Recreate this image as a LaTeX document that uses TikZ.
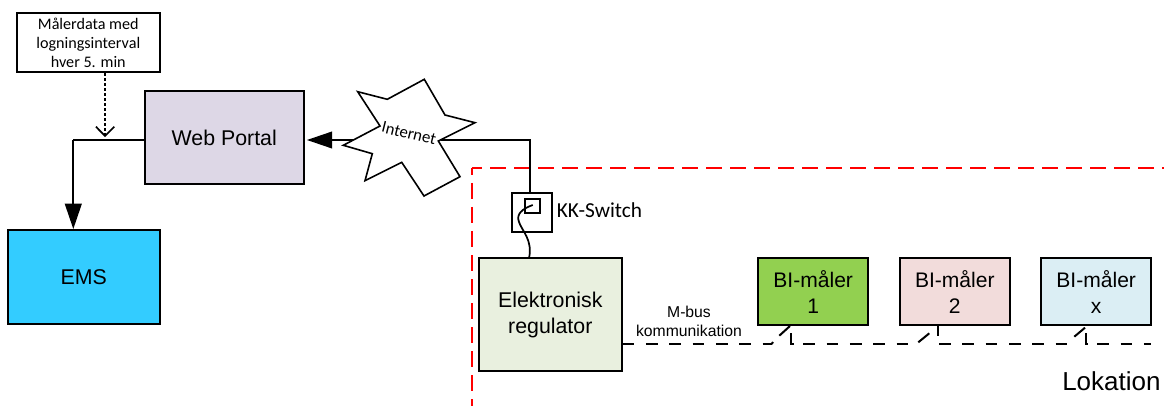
\documentclass[tikz,border=0pt]{standalone}
\usepackage{fontspec}
\setmainfont{Liberation Sans}
\newfontfamily\calfont{Carlito}
\usetikzlibrary{arrows.meta}
\definecolor{webc}{HTML}{DDD7E6}
\definecolor{emsc}{HTML}{33CCFF}
\definecolor{regc}{HTML}{E9F0DF}
\definecolor{m1c}{HTML}{92D050}
\definecolor{m2c}{HTML}{F2DCDB}
\definecolor{mxc}{HTML}{DBEEF4}
\tikzset{
 x=0.75pt,y=-0.75pt,
 boxed/.style={draw=black,line width=1.4pt,inner sep=0pt,align=center},
 main/.style={boxed,font=\fontsize{16}{19.4}\selectfont},
 meter/.style={main,font=\fontsize{15.8}{19.5}\selectfont,minimum width=82.3pt,minimum height=50pt},
 wire/.style={line width=1.5pt,line join=miter},
 solidhead/.style={-{Triangle[length=19pt,width=12.5pt]}},
 busline/.style={line width=1.5pt},
 busdash/.style={busline,dash pattern=on 8.8pt off 8.7pt},
 redframe/.style={red,line width=1.7pt,dash pattern=on 12pt off 6pt},
}
\begin{document}
\begin{tikzpicture}
\useasboundingbox (0,0) rectangle (1164,406);
% red location frame
\coordinate (fa) at (1164,168);
\coordinate (fb) at (472,168);
\coordinate (fc) at (472,406);
\draw[redframe,dash phase=4.5pt] (fb) -- (fa);
\draw[redframe,dash phase=6.75pt] (fb) -- (fc);
\node[anchor=base west,font=\fontsize{19.5}{22}\selectfont,inner sep=0pt] (lok) at (1062,390) {Lokation};
% boxes
\node[boxed,minimum width=107pt,minimum height=44pt,font=\calfont\fontsize{12.1}{14.1}\selectfont] (call) at (88.3,42.7) {Målerdata med\\logningsinterval\\hver 5. min};
\node[main,fill=webc,minimum width=119.5pt,minimum height=70pt] (web) at (224.3,137.5) {Web Portal};
\node[main,fill=emsc,minimum width=114.2pt,minimum height=70.5pt] (ems) at (83.8,277) {EMS};
\node[main,fill=regc,minimum width=107pt,minimum height=84.5pt] (reg) at (550.3,314.6) {Elektronisk\\regulator};
\node[meter,fill=m1c] (m1) at (813.2,291.7) {BI-måler\\1};
\node[meter,fill=m2c] (m2) at (954.8,291.7) {BI-måler\\2};
\node[meter,fill=mxc] (mx) at (1096.2,291.7) {BI-måler\\x};
% star
\draw[line width=1.2pt,line join=miter,fill=white] (424.3,79.3) -- (445,115) -- (475,122.7) -- (438.3,141) -- (460,176.7) -- (424,196) -- (401.7,162.3) -- (365,180.7) -- (372.3,153.7) -- (343.3,145.3) -- (380,126) -- (357.7,91.7) -- (387.3,99.3) -- cycle;
\node[rotate=-14,font=\calfont\fontsize{12.6}{14}\selectfont,inner sep=0pt] (inet) at (409,133.5) {Internet};
\coordinate (starL) at (353,140);
\coordinate (starR) at (441,140);
% switch
\node[boxed,minimum width=30pt,minimum height=29.5pt] (sw) at (532,212.3) {};
\node[boxed,minimum width=11pt,minimum height=11pt] (swin) at (532.5,206) {};
\node[anchor=base west,font=\calfont\fontsize{16}{18}\selectfont,inner sep=0pt] (swl) at (556.5,217.3) {KK-Switch};
\coordinate (swt) at (530.3,192.7);
\coordinate (wa) at (532.7,205);
\coordinate (wb) at (529,258.3);
% connectors
\coordinate (j) at (73.3,140);
\coordinate (jd) at (105,136);
\draw[wire] (web.west |- j) -- (j);
\draw[wire,solidhead] (j) -- (ems.north -| j);
\draw[line width=1.5pt,dash pattern=on 2pt off 1.75pt] (call.south -| jd) -- (jd);
\draw[line width=1.3pt] (96,126.7) -- (jd) -- (114.3,126.7);
\draw[wire,solidhead,shorten >=1.5pt] (starL) -- (web.east |- starL);
\draw[wire] (starR) -- (swt |- starR) -- (swt);
\draw[line width=1.3pt] (wa) .. controls (522,209) and (516,214) .. (519,222) .. controls (522,231) and (533,240) .. (wb);
% bus
\coordinate (b1) at (771.7,344);
\coordinate (b1a) at (773,342);
\coordinate (b1b) at (779.3,335.7);
\coordinate (b1t) at (790,326);
\coordinate (b1s) at (790.7,333.3);
\coordinate (b1c) at (790.7,344);
\coordinate (b1e) at (794.3,344);
\coordinate (c1) at (803.3,344);
\coordinate (c1e) at (908,344);
\coordinate (b2a) at (918.3,342.3);
\coordinate (b2b) at (929.3,333.3);
\coordinate (b2s) at (937.7,326);
\coordinate (b2e) at (937.7,336);
\coordinate (c2) at (939,344);
\coordinate (c2e) at (1067.3,344);
\coordinate (b3b) at (1074.3,336.7);
\coordinate (b3t) at (1085,327.7);
\coordinate (b3s) at (1085.7,333.3);
\coordinate (b3c) at (1085.7,344);
\coordinate (b3e) at (1088.3,344);
\coordinate (c3) at (1097.3,344);
\coordinate (b4) at (1151,344);
\draw[busdash] (reg.east |- b1) -- (b1);
\draw[busline] (b1) -- (b1a);
\draw[busline] (b1b) -- (b1t);
\draw[busline] (b1s) -- (b1c) -- (b1e);
\draw[busdash] (c1) -- (c1e);
\draw[busline] (b2a) -- (b2b);
\draw[busline] (b2s) -- (b2e);
\draw[busdash] (c2) -- (c2e);
\draw[busline] (b3b) -- (b3t);
\draw[busline] (b3s) -- (b3c) -- (b3e);
\draw[busdash] (c3) -- (b4);
\node[align=center,inner sep=0pt,font=\fontsize{11.8}{14.5}\selectfont] (mb) at (689,321.5) {M-bus\\kommunikation};
\end{tikzpicture}
\end{document}
